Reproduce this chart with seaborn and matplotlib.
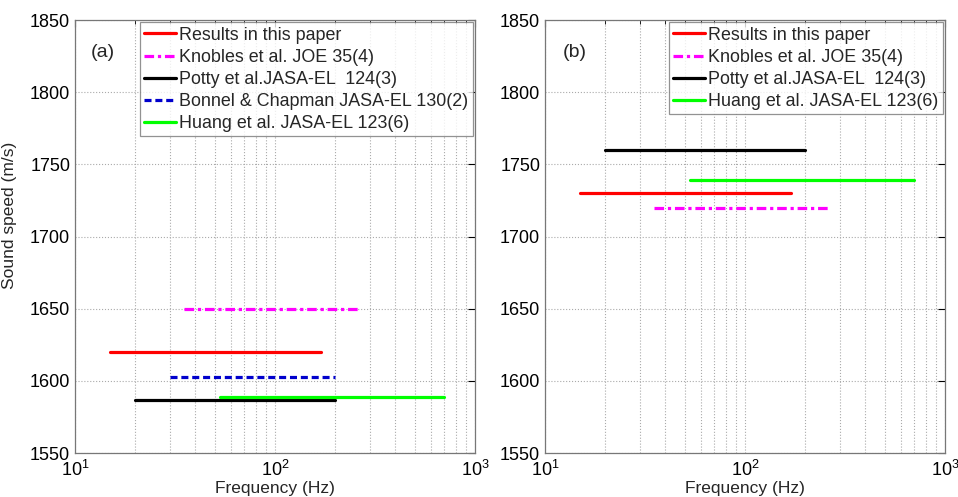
import pandas as pd
import matplotlib
matplotlib.use("Agg")
import matplotlib.pyplot as plt
import seaborn as sns

# series labels and styles
labels_a = ["Results in this paper", "Knobles et al. JOE 35(4)", "Potty et al.JASA-EL  124(3)",
            "Bonnel & Chapman JASA-EL 130(2)", "Huang et al. JASA-EL 123(6)"]
f_lo_a = [15, 35, 20, 30, 53]
f_hi_a = [170, 265, 200, 200, 700]
speed_a = [1620, 1650, 1587, 1603, 1589]

labels_b = ["Results in this paper", "Knobles et al. JOE 35(4)", "Potty et al.JASA-EL  124(3)",
            "Huang et al. JASA-EL 123(6)"]
f_lo_b = [15, 35, 20, 53]
f_hi_b = [170, 265, 200, 700]
speed_b = [1730, 1720, 1760, 1739]

styles = {
    "Results in this paper": ("#ff0000", "-"),
    "Knobles et al. JOE 35(4)": ("#ff00ff", (0, (3, 1.2, 1, 1.2))),
    "Potty et al.JASA-EL  124(3)": ("#000000", "-"),
    "Bonnel & Chapman JASA-EL 130(2)": ("#0000cc", (0, (2.2, 1.2))),
    "Huang et al. JASA-EL 123(6)": ("#00ff00", "-"),
}

sns.set_style("white")
plt.rcParams["font.family"] = ["Liberation Sans", "DejaVu Sans"]
plt.rcParams["mathtext.fontset"] = "custom"
plt.rcParams["mathtext.rm"] = "Liberation Sans"
plt.rcParams["mathtext.it"] = "Liberation Sans"
plt.rcParams["xtick.direction"] = "in"
plt.rcParams["ytick.direction"] = "in"


def draw_panel(ax, labels, lo, hi, speed, tag, tag_x):
    for lab, a, b, s in zip(labels, lo, hi, speed):
        df = pd.DataFrame({"f": [a, b], "c": [s, s]})
        col, ls = styles[lab]
        sns.lineplot(data=df, x="f", y="c", ax=ax, color=col, linestyle=ls,
                     linewidth=2.3, label=lab)
    ax.set_xscale("log")
    ax.set_xlim(10, 1000)
    ax.set_ylim(1550, 1850)
    ax.set_yticks(range(1550, 1851, 50))
    ax.grid(True, which="major", linestyle=":", color="#aaaaaa", linewidth=0.8)
    ax.grid(True, which="minor", axis="x", linestyle=":", color="#aaaaaa", linewidth=0.8)
    ax.tick_params(which="both", top=True, right=True, labelsize=13, colors="#000000")
    ax.tick_params(which="major", length=5)
    ax.tick_params(axis="x", which="major", pad=5)
    ax.tick_params(which="minor", length=3)
    for sp in ax.spines.values():
        sp.set_color("#777777")
        sp.set_linewidth(0.9)
    ax.set_xlabel("Frequency (Hz)", fontsize=12.5, labelpad=1)
    ax.text(tag_x, 0.926, tag, transform=ax.transAxes, fontsize=14, ha="center", va="center")
    leg = ax.legend(loc="upper right", fontsize=12.9, frameon=True, fancybox=False,
                    borderpad=0.25, labelspacing=0.28, handlelength=1.75, handletextpad=0.2,
                    borderaxespad=0.12)
    leg.get_frame().set_edgecolor("#777777")
    leg.get_frame().set_linewidth(0.9)


fig = plt.figure(figsize=(9.58, 4.97), dpi=100)
ax1 = fig.add_axes([0.0783, 0.0885, 0.4175, 0.871])
ax2 = fig.add_axes([0.5689, 0.0885, 0.4175, 0.871])

draw_panel(ax1, labels_a, f_lo_a, f_hi_a, speed_a, "(a)", 0.07)
draw_panel(ax2, labels_b, f_lo_b, f_hi_b, speed_b, "(b)", 0.075)
ax1.set_ylabel("Sound speed (m/s)", fontsize=12.5)
ax1.yaxis.set_label_coords(-0.145, 0.55)
ax2.set_ylabel("")

fig.savefig("out.png", dpi=100)
